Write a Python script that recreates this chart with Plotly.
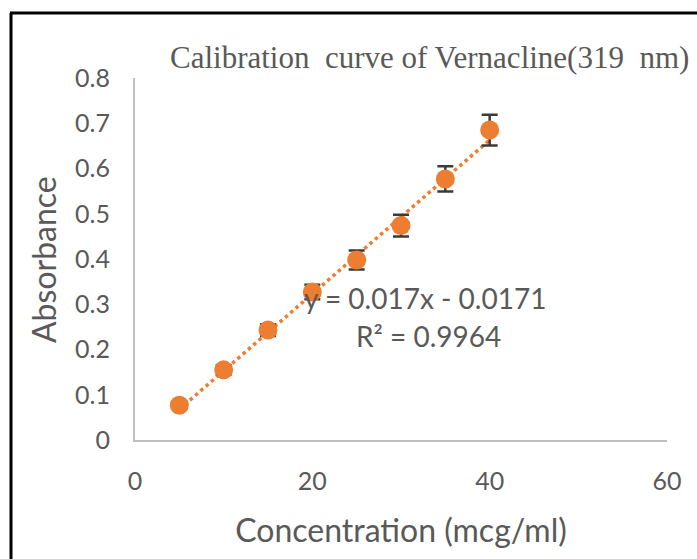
import plotly.graph_objects as go

# Data
concentration = [5, 10, 15, 20, 25, 30, 35, 40]
absorbance = [0.077, 0.155, 0.243, 0.327, 0.398, 0.474, 0.577, 0.685]
error = [0.008, 0.010, 0.013, 0.016, 0.021, 0.024, 0.028, 0.034]
slope = 0.017
intercept = -0.0171
r2_text = "R² = 0.9964"
eq_text = "y = 0.017x - 0.0171"
title_text = "Calibration  curve of Vernacline(319  nm)"
x_title = "Concentration (mcg/ml)"
y_title = "Absorbance"
x_ticks = [0, 20, 40, 60]
y_ticks = [0, 0.1, 0.2, 0.3, 0.4, 0.5, 0.6, 0.7, 0.8]

ORANGE = "#ED7D31"
TEXT = "#595959"
AXIS = "#BFBFBF"
SANS = "Lato, 'Open Sans', sans-serif"

W, H = 697, 559
L, R, T, B = 135, 30, 78, 119
PW, PH = W - L - R, H - T - B

def px(x):
    return (x - L) / PW

def py(y):
    return (H - B - y) / PH

trend_x = [concentration[0], concentration[-1]]
trend_y = [slope * v + intercept for v in trend_x]

fig = go.Figure()
fig.add_trace(go.Scatter(
    x=trend_x, y=trend_y, mode="lines",
    line=dict(color=ORANGE, width=3.5, dash="dot"),
    hoverinfo="skip", showlegend=False,
))
fig.add_trace(go.Scatter(
    x=concentration, y=absorbance, mode="markers",
    marker=dict(color=ORANGE, size=19, line=dict(width=0)),
    error_y=dict(type="data", array=error, visible=True,
                 color="#3a3a3a", thickness=2.5, width=8),
    showlegend=False,
))

fig.update_layout(
    width=W, height=H,
    margin=dict(l=L, r=R, t=T, b=B),
    paper_bgcolor="white", plot_bgcolor="white",
    font=dict(family=SANS, color=TEXT, size=24),
    xaxis=dict(range=[0, 60], tickvals=x_ticks, showgrid=False, zeroline=False,
               showline=True, linecolor=AXIS, linewidth=2, ticks="",
               ticklabelstandoff=18,
               tickfont=dict(size=25, color=TEXT, family=SANS),
               title=dict(text=x_title, standoff=26,
                          font=dict(size=32, color=TEXT, family=SANS))),
    yaxis=dict(range=[0, 0.8], tickvals=y_ticks, showgrid=False, zeroline=False,
               showline=True, linecolor=AXIS, linewidth=2, ticks="",
               ticklabelstandoff=18,
               tickfont=dict(size=25, color=TEXT, family=SANS)),
    annotations=[
        dict(text=title_text, xref="paper", yref="paper", x=px(168), y=py(58),
             xanchor="left", yanchor="middle", showarrow=False,
             font=dict(family="'Liberation Serif', serif", size=31, color=TEXT)),
        dict(text=y_title, xref="paper", yref="paper", x=px(43), y=py(260),
             xanchor="center", yanchor="middle", showarrow=False, textangle=-90,
             font=dict(family=SANS, size=32, color=TEXT)),
        dict(text=eq_text, xref="paper", yref="paper", x=px(425), y=py(298),
             xanchor="center", yanchor="middle", showarrow=False,
             font=dict(family=SANS, size=28, color=TEXT)),
        dict(text=r2_text, xref="paper", yref="paper", x=px(428), y=py(336),
             xanchor="center", yanchor="middle", showarrow=False,
             font=dict(family=SANS, size=28, color=TEXT)),
    ],
    shapes=[
        dict(type="line", xref="paper", yref="paper", x0=px(11), x1=px(11),
             y0=py(13), y1=py(H + 5), line=dict(color="black", width=3)),
        dict(type="line", xref="paper", yref="paper", x0=px(10), x1=px(W + 5),
             y0=py(13), y1=py(13), line=dict(color="black", width=3)),
    ],
)

fig.write_html("out.html")
